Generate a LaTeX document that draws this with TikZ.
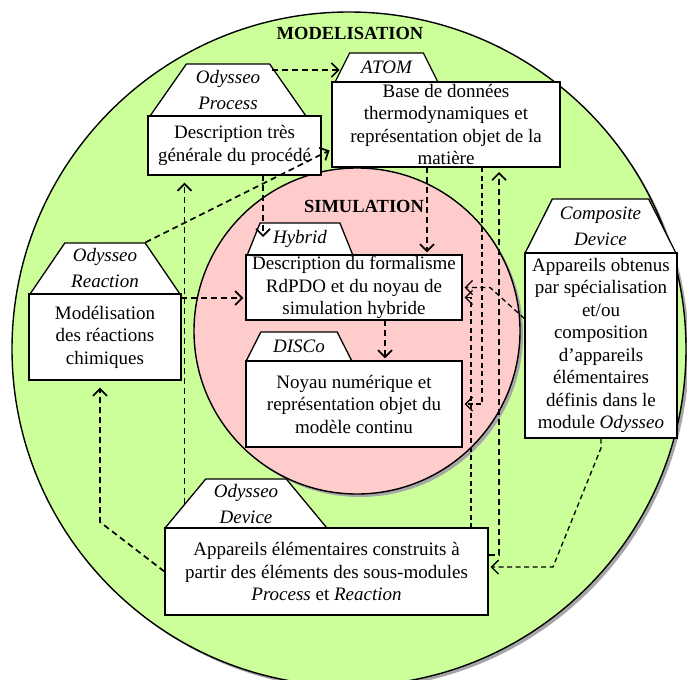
\documentclass[tikz,border=0pt]{standalone}
\usepackage{fontspec}
\setmainfont{Liberation Serif}
\usepackage{tikz}
\usetikzlibrary{arrows.meta,positioning,shapes.geometric,calc}
\definecolor{modgreen}{RGB}{204,255,153}
\definecolor{simpink}{RGB}{255,204,204}

\begin{document}
\begin{tikzpicture}[
  x=1pt, y=-1pt,
  box/.style={rectangle, draw, fill=white, line width=1.3pt, align=center,
    inner xsep=2pt, inner ysep=1pt, font=\fontsize{19}{22.5}\selectfont},
  tab/.style={trapezium, draw, fill=white, line width=1.3pt, align=center,
    trapezium angle=55, trapezium stretches=true, inner sep=1pt,
    font=\itshape\fontsize{19}{26}\selectfont},
  link/.style={-{Straight Barb[length=7pt,width=14pt]}, line width=1.7pt,
    dash pattern=on 6pt off 4pt, shorten >=2pt},
  thinlink/.style={link, line width=1.3pt, dash pattern=on 5pt off 3.5pt},
  ring/.style={draw, line width=1.4pt},
  heading/.style={font=\bfseries\fontsize{18.5}{22}\selectfont}
]
  \useasboundingbox (0,0) rectangle (687,679);

  % the two modules
  \fill[gray!70] (352,352) circle (337pt);
  \draw[ring, fill=modgreen] (349,349) circle (337pt);
  \fill[gray!70] (360,334) circle (163pt);
  \draw[ring, fill=simpink] (357,331) circle (163pt);

  \node[heading] (modl) at (350,33) {MODELISATION};
  \node[heading] (simu) at (364,206) {SIMULATION};

  % sub-modules of MODELISATION
  \node[tab, minimum width=156pt, minimum height=52pt] (procT) at (228,90)
    {Odysseo\\Process};
  \node[box, minimum width=173pt, minimum height=59pt] (proc) at (234.5,145.5)
    {Description très\\générale du procédé};

  \node[tab, minimum width=103pt, minimum height=29pt] (atomT) at (386.5,67.5)
    {ATOM};
  \node[box, minimum width=228pt, minimum height=85pt] (atom) at (446,124.5)
    {Base de données\\thermodynamiques et\\représentation objet de la\\matière};

  \node[tab, trapezium angle=54, minimum width=150pt, minimum height=51pt]
    (reacT) at (105,268.5) {Odysseo\\Reaction};
  \node[box, minimum width=152pt, minimum height=86pt] (reac) at (105,337)
    {Modélisation\\des réactions\\chimiques};

  \node[tab, trapezium angle=60, minimum width=151pt, minimum height=54pt]
    (compT) at (600.5,226) {Composite\\Device};
  \node[box, minimum width=152pt, minimum height=185pt] (comp) at (601,345.5)
    {Appareils obtenus\\par spécialisation\\et/ou\\composition\\d’appareils\\élémentaires\\définis dans le\\module \textit{Odysseo}};

  \node[tab, trapezium angle=51, minimum width=162pt, minimum height=49pt]
    (devT) at (246,503.5) {Odysseo\\Device};
  \node[box, minimum width=323pt, minimum height=87pt] (dev) at (326.5,571.5)
    {Appareils élémentaires construits à\\partir des éléments des sous-modules\\\textit{Process} et \textit{Reaction}};

  % sub-modules of SIMULATION
  \node[tab, trapezium angle=65, minimum width=106pt, minimum height=32pt]
    (hybT) at (300,239) {Hybrid};
  \node[box, minimum width=216pt, minimum height=65pt] (hyb) at (354,287.5)
    {Description du formalisme\\RdPDO et du noyau de\\simulation hybride};

  \node[tab, minimum width=106pt, minimum height=29pt] (discoT) at (299,346.5)
    {DISCo};
  \node[box, minimum width=216pt, minimum height=86pt] (disco) at (354,404)
    {Noyau numérique et\\représentation objet du\\modèle continu};

  % dependencies
  \coordinate (p1) at (272,70);
  \draw[link] (p1) -- (p1 -| atomT.west);
  \coordinate (p2) at (263,175);
  \draw[link] (p2) -- (p2 |- hybT.west);
  \draw[link] (reacT.top right corner) -- ([yshift=-25pt]atom.west);
  \coordinate (r1) at (181,298);
  \draw[link] (r1) -- (r1 -| hyb.west);
  \draw[link, shorten >=7pt] (devT.west) -- (devT.west |- proc.south);
  \coordinate (d1) at (100,522);
  \draw[link, shorten >=7pt] (dev.west) -- (d1) -- (d1 |- reac.south);
  \coordinate (a1) at (427,167);
  \draw[link] (a1) -- (a1 |- hyb.north);
  \coordinate (h1) at (385,320);
  \draw[link] (h1) -- (h1 |- disco.north);
  \coordinate (a2) at (482,167);
  \draw[thinlink] (a2) |- (disco.east);
  \coordinate (c1) at (490,287.5);
  \draw[thinlink] ([yshift=27pt]comp.west) -- (c1) -- (hyb.east);
  \coordinate (d2) at (471,528);
  \draw[thinlink] (d2) |- ([yshift=-10pt]hyb.east);
  \coordinate (a3) at (499,167);
  \draw[link, shorten >=5pt] ([yshift=16.5pt]dev.east) -| (a3);
  \coordinate (c2) at (601,448);
  \coordinate (c3) at (553,567);
  \draw[thinlink] (comp.south) -- (c2) -- (c3) -- (c3 -| dev.east);
\end{tikzpicture}
\end{document}
